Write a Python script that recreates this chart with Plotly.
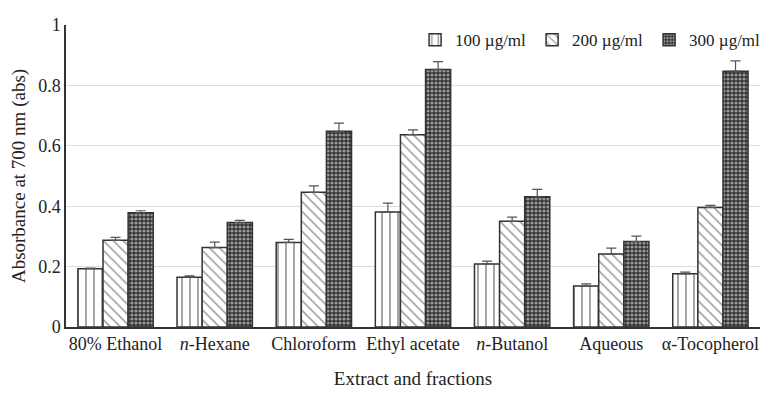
import plotly.graph_objects as go

categories = ["80% Ethanol", "<i>n</i>-Hexane", "Chloroform", "Ethyl acetate",
              "<i>n</i>-Butanol", "Aqueous", "α-Tocopherol"]
series_names = ["100 µg/ml", "200 µg/ml", "300 µg/ml"]
v100 = [0.193, 0.165, 0.280, 0.381, 0.209, 0.136, 0.176]
v200 = [0.287, 0.263, 0.446, 0.637, 0.350, 0.242, 0.396]
v300 = [0.378, 0.346, 0.648, 0.853, 0.431, 0.283, 0.847]
e100 = [0.002, 0.004, 0.010, 0.029, 0.009, 0.007, 0.006]
e200 = [0.010, 0.018, 0.021, 0.016, 0.014, 0.019, 0.007]
e300 = [0.007, 0.007, 0.027, 0.026, 0.025, 0.018, 0.034]

patterns = [dict(shape="|", size=8, solidity=0.2, fgcolor="#222", bgcolor="white"),
            dict(shape="\\", size=7, solidity=0.2, fgcolor="#222", bgcolor="white"),
            dict(shape=".", size=4, solidity=0.5, fgcolor="white", bgcolor="#333")]

fig = go.Figure()
for name, vals, errs, pat in zip(series_names, [v100, v200, v300], [e100, e200, e300], patterns):
    fig.add_trace(go.Bar(
        x=categories, y=vals, name=name,
        marker=dict(color="white", pattern=pat, line=dict(color="#333", width=1.5)),
        error_y=dict(type="data", array=errs, arrayminus=[0]*len(errs), symmetric=False,
                     color="#555", thickness=1.2, width=5),
    ))

fig.update_layout(
    width=771, height=399,
    margin=dict(l=57, r=19, t=7, b=80),
    plot_bgcolor="white", paper_bgcolor="white",
    font=dict(family="Liberation Serif, Times New Roman, serif", size=18, color="#222"),
    barmode="group", bargap=0.24, bargroupgap=0,
    legend=dict(orientation="h", x=0.503, y=0.95, xanchor="left", yanchor="middle",
                font=dict(size=17), bgcolor="rgba(0,0,0,0)",
                entrywidth=72, entrywidthmode="pixels"),
    xaxis=dict(showline=True, linecolor="#333", linewidth=1.5, ticks="",
               title=dict(text="Extract and fractions", font=dict(size=19), standoff=18)),
    yaxis=dict(range=[0, 1], tickvals=[0, 0.2, 0.4, 0.6, 0.8, 1],
               ticktext=["0", "0.2", "0.4", "0.6", "0.8", "1"],
               showline=True, linecolor="#333", linewidth=1.5, showgrid=True,
               gridcolor="#dcdcdc", gridwidth=1, zeroline=False, ticks="",
               title=dict(text="Absorbance at 700 nm (abs)", font=dict(size=19), standoff=10)),
)
fig.write_html("out.html")
